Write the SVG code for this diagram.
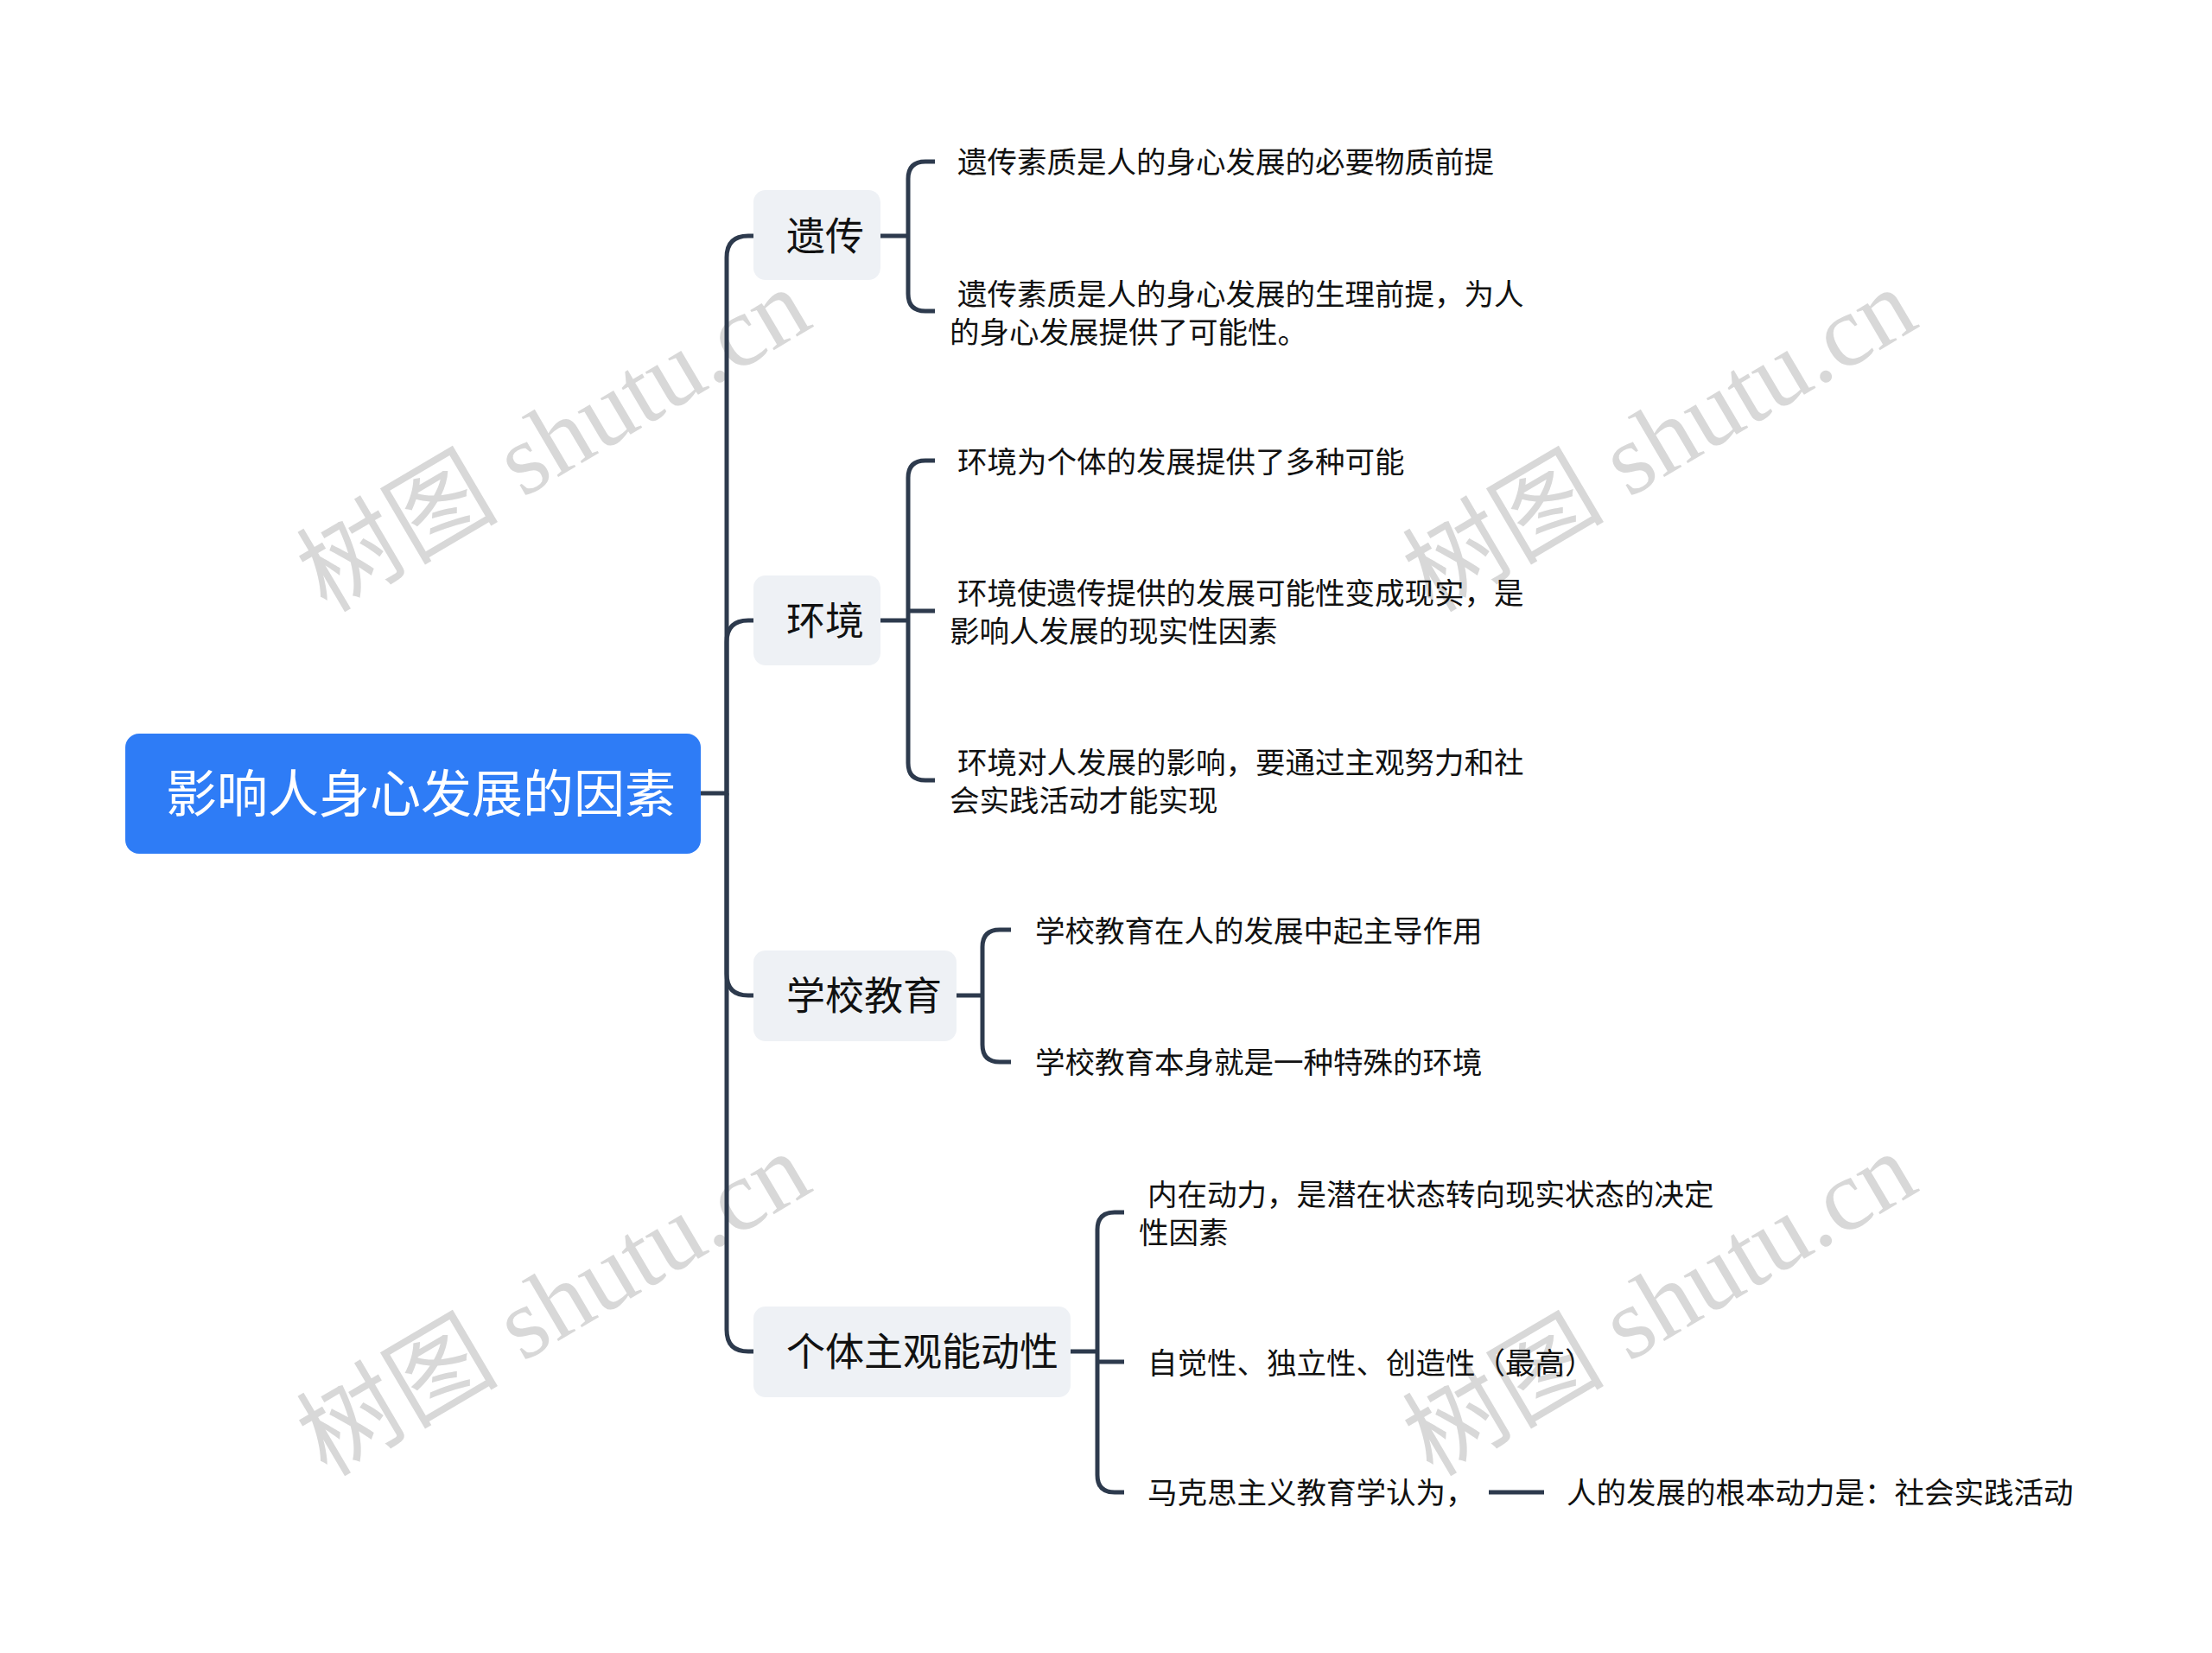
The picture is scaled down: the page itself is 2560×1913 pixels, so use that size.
<svg xmlns="http://www.w3.org/2000/svg" width="2560" height="1913" viewBox="0 0 2560 1913">
<style>
.wm{font-family:"Liberation Serif","Noto Sans CJK SC",serif;font-size:117px;fill:#d8d8d8}
.root{fill:#2e7cf6}
.roott{font-family:"Noto Sans CJK SC",sans-serif;font-size:59px;fill:#ffffff}
.sub{fill:#eef1f5}
.subt{font-family:"Noto Sans CJK SC",sans-serif;font-size:45px;fill:#111111}
.leaf{font-family:"Noto Sans CJK SC",sans-serif;font-size:34.5px;fill:#111111}
.ln{fill:none;stroke:#2d3a4d;stroke-width:5}
</style>
<rect x="0" y="0" width="2560" height="1913" fill="#ffffff"/>
<g id="watermarks">
<text class="wm" x="378" y="710" transform="rotate(-30.5 378 710)">树图 shutu.cn</text>
<text class="wm" x="1658" y="710" transform="rotate(-30.5 1658 710)">树图 shutu.cn</text>
<text class="wm" x="378" y="1710" transform="rotate(-30.5 378 1710)">树图 shutu.cn</text>
<text class="wm" x="1658" y="1710" transform="rotate(-30.5 1658 1710)">树图 shutu.cn</text>
</g>
<g id="connectors">
<path class="ln" d="M811,918 H841 V298 Q841,273 866,273 H873"/>
<path class="ln" d="M841,918 V743 Q841,718 866,718 H873"/>
<path class="ln" d="M841,918 V1127 Q841,1152 866,1152 H873"/>
<path class="ln" d="M841,918 V1539 Q841,1564 866,1564 H873"/>
<path class="ln" d="M1019,273 H1051"/>
<path class="ln" d="M1082,187 H1071 Q1051,187 1051,207 V340 Q1051,360 1071,360 H1082"/>
<path class="ln" d="M1019,718 H1051"/>
<path class="ln" d="M1082,533 H1071 Q1051,533 1051,553 V883 Q1051,903 1071,903 H1082"/>
<path class="ln" d="M1051,707 H1082"/>
<path class="ln" d="M1107,1152 H1137"/>
<path class="ln" d="M1170,1076 H1157 Q1137,1076 1137,1096 V1209 Q1137,1229 1157,1229 H1170"/>
<path class="ln" d="M1239,1564 H1270"/>
<path class="ln" d="M1301,1403 H1290 Q1270,1403 1270,1423 V1707 Q1270,1727 1290,1727 H1301"/>
<path class="ln" d="M1270,1576 H1301"/>
<path class="ln" d="M1723,1727 H1787"/>
</g>
<g id="root">
<rect class="root" x="145" y="849" width="666" height="139" rx="16"/>
<text class="roott" x="192" y="940">影响人身心发展的因素</text>
</g>
<g id="n-yichuan">
<rect class="sub" x="872" y="220" width="147" height="104" rx="14"/>
<text class="subt" x="910" y="290">遗传</text>
</g>
<g id="n-huanjing">
<rect class="sub" x="872" y="666" width="147" height="104" rx="14"/>
<text class="subt" x="910" y="735">环境</text>
</g>
<g id="n-xuexiao">
<rect class="sub" x="872" y="1100" width="235" height="105" rx="14"/>
<text class="subt" x="910" y="1169">学校教育</text>
</g>
<g id="n-geti">
<rect class="sub" x="872" y="1512" width="367" height="105" rx="14"/>
<text class="subt" x="910" y="1581">个体主观能动性</text>
</g>
<g id="leaf-yc1"><text class="leaf" x="1108" y="200">遗传素质是人的身心发展的必要物质前提</text></g>
<g id="leaf-yc2"><text class="leaf" x="1108" y="353">遗传素质是人的身心发展的生理前提，为人</text><text class="leaf" x="1099" y="397">的身心发展提供了可能性。</text></g>
<g id="leaf-hj1"><text class="leaf" x="1108" y="547">环境为个体的发展提供了多种可能</text></g>
<g id="leaf-hj2"><text class="leaf" x="1108" y="699">环境使遗传提供的发展可能性变成现实，是</text><text class="leaf" x="1099" y="743">影响人发展的现实性因素</text></g>
<g id="leaf-hj3"><text class="leaf" x="1108" y="895">环境对人发展的影响，要通过主观努力和社</text><text class="leaf" x="1099" y="939">会实践活动才能实现</text></g>
<g id="leaf-xx1"><text class="leaf" x="1198" y="1090">学校教育在人的发展中起主导作用</text></g>
<g id="leaf-xx2"><text class="leaf" x="1198" y="1242">学校教育本身就是一种特殊的环境</text></g>
<g id="leaf-gt1"><text class="leaf" x="1328" y="1395">内在动力，是潜在状态转向现实状态的决定</text><text class="leaf" x="1318" y="1439">性因素</text></g>
<g id="leaf-gt2"><text class="leaf" x="1328" y="1590">自觉性、独立性、创造性（最高）</text></g>
<g id="leaf-gt3"><text class="leaf" x="1328" y="1740">马克思主义教育学认为，</text></g>
<g id="leaf-gt3a"><text class="leaf" x="1813" y="1740">人的发展的根本动力是：社会实践活动</text></g>
</svg>
